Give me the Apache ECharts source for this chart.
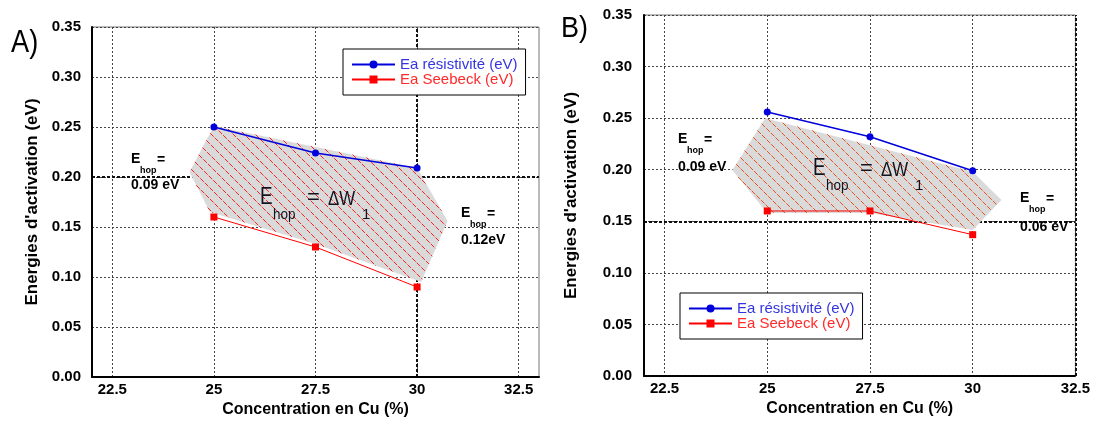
<!DOCTYPE html>
<html><head><meta charset="utf-8">
<script src="https://cdn.jsdelivr.net/npm/echarts@6/dist/echarts.min.js"></script>
<style>html,body{margin:0;padding:0;background:#fff}#c{width:1093px;height:423px}</style>
</head><body><div id="c"></div>
<script>
// ---- data ----
const xTicks = [22.5, 25, 27.5, 30, 32.5];
const conc = [25, 27.5, 30];
const resA = [0.25, 0.224, 0.209];
const seeA = [0.16, 0.13, 0.09];
const resB = [0.256, 0.232, 0.199];
const seeB = [0.16, 0.16, 0.137];
const zoneAx = [25, 30, 30.75, 30.1, 27.5, 24.9, 24.4];
const zoneAy = [0.251, 0.209, 0.156, 0.095, 0.133, 0.165, 0.205];
const zoneBx = [24.95, 30, 30.7, 30, 27.5, 25, 24.15];
const zoneBy = [0.25, 0.198, 0.1706, 0.1416, 0.158, 0.158, 0.1997];
const nameRes = 'Ea résistivité (eV)';
const nameSee = 'Ea Seebeck (eV)';

const FF = '"Liberation Sans", Arial, sans-serif';

// diagonal hatch segments ("\" direction) clipped to a pixel polygon
function hatchSegments(P, step) {
  const ds = P.map(p => p[1] - p[0]);
  const dMin = Math.min(...ds), dMax = Math.max(...ds);
  const segs = [];
  for (let d = Math.ceil(dMin / step) * step; d <= dMax; d += step) {
    const xs = [];
    for (let i = 0; i < P.length; i++) {
      const a = P[i], b = P[(i + 1) % P.length];
      const fa = a[1] - a[0] - d, fb = b[1] - b[0] - d;
      if ((fa < 0 && fb >= 0) || (fa >= 0 && fb < 0)) {
        const t = fa / (fa - fb);
        xs.push(a[0] + t * (b[0] - a[0]));
      }
    }
    xs.sort((u, v) => u - v);
    for (let k = 0; k + 1 < xs.length; k += 2) segs.push([xs[k], xs[k] + d, xs[k + 1], xs[k + 1] + d]);
  }
  return segs;
}

function zoneSeries(gi, xs, ys, color) {
  const pts = xs.map((x, i) => [x, ys[i]]);
  return {
    type: 'custom', xAxisIndex: gi, yAxisIndex: gi, data: pts, silent: true, z: 1, clip: false,
    renderItem(params, api) {
      if (params.dataIndex !== 0) return null;
      const P = pts.map(p => api.coord(p));
      const children = [{ type: 'polygon', shape: { points: P }, style: { fill: '#dadada' } }];
      hatchSegments(P, 11).forEach(s => children.push({
        type: 'line', shape: { x1: s[0], y1: s[1], x2: s[2], y2: s[3] },
        style: { stroke: color, lineWidth: 1, lineDash: [5, 1.5] }
      }));
      return { type: 'group', children };
    }
  };
}

function lineSeries(gi, name, ys, color, symbol, width, extraLines) {
  const s = {
    type: 'line', name, xAxisIndex: gi, yAxisIndex: gi, z: 5,
    data: conc.map((x, i) => [x, ys[i]]),
    symbol, symbolSize: 7, showSymbol: true,
    lineStyle: { color, width }, itemStyle: { color },
    emphasis: { disabled: true }
  };
  if (extraLines) {
    s.markLine = { silent: true, symbol: 'none', z: 0, label: { show: false },
      lineStyle: { type: [3, 2], width: 2, color: '#111' }, data: extraLines };
  }
  return s;
}

const labelStyle = { color: '#000', fontWeight: 'bold', fontSize: 15, fontFamily: FF };

function xAxisCfg(gi, max, lineType) {
  return {
    type: 'value', gridIndex: gi, min: 22, max: max,
    name: 'Concentration en Cu (%)', nameLocation: 'middle', nameGap: 25,
    nameTextStyle: { color: '#000', fontWeight: 'bold', fontSize: 16, fontFamily: FF },
    axisLine: { show: true, onZero: false, lineStyle: { color: '#000', width: 2, type: lineType } },
    axisTick: { show: false, customValues: xTicks },
    axisLabel: Object.assign({ customValues: xTicks, margin: 5, formatter: v => String(v) }, labelStyle),
    splitLine: { show: true, lineStyle: { type: [2, 2], color: '#444', width: 1 } }
  };
}
function yAxisCfg(gi, gap, margin) {
  return {
    type: 'value', gridIndex: gi, min: 0, max: 0.35, interval: 0.05,
    name: "Energies d'activation (eV)", nameLocation: 'middle', nameGap: gap,
    nameTextStyle: { color: '#000', fontWeight: 'bold', fontSize: 17, fontFamily: FF },
    axisLine: { show: true, onZero: false, lineStyle: { color: '#000', width: 2 } },
    axisTick: { show: false },
    axisLabel: Object.assign({ margin: margin, formatter: v => v.toFixed(2) }, labelStyle),
    splitLine: { show: true, lineStyle: { type: [2, 2], color: '#444', width: 1 } }
  };
}

function txt(x, y, text, size, weight, color, sx) {
  return { type: 'text', x, y, z: 100, scaleX: sx || 1,
    style: { text, fontSize: size, fontWeight: weight, fontFamily: FF, fill: color, verticalAlign: 'middle', align: 'left' } };
}
function ehop(x, y, valText, dy) {
  return [
    txt(x, y, 'E', 14, 'bold', '#000'),
    txt(x + 9, y + 12, 'hop', 9, 'bold', '#000'),
    txt(x + 26, y + 1, '=', 14, 'bold', '#000'),
    txt(x, y + dy, valText, 14, 'bold', '#000')
  ];
}
function bigEq(x, y) {
  const c = '#111420';
  return [
    txt(x, y, 'E', 23, 'normal', c, 0.82),
    txt(x + 13, y + 17, 'hop', 15, 'normal', c, 0.9),
    txt(x + 47, y, '=', 22, 'normal', c),
    txt(x + 68, y + 1, 'ΔW', 21, 'normal', c, 0.8),
    txt(x + 102, y + 17, '1', 15, 'normal', c)
  ];
}

function legendCfg(left, top) {
  return {
    left, top, orient: 'vertical', borderColor: '#000', borderWidth: 1,
    padding: [8, 8, 8, 8], itemGap: 0, itemWidth: 43, itemHeight: 10,
    backgroundColor: '#fff', selectedMode: false,
    textStyle: { fontSize: 15, fontFamily: FF, lineHeight: 14 },
    data: [
      { name: nameRes, textStyle: { color: '#3535e0' } },
      { name: nameSee, textStyle: { color: '#ff2a2a' } }
    ]
  };
}

const chart = echarts.init(document.getElementById('c'), null, { renderer: 'canvas' });
chart.setOption({
  animation: false,
  backgroundColor: '#fff',
  grid: [
    { left: 92, top: 27, width: 447, height: 351, show: true, borderColor: '#777', borderWidth: 1, backgroundColor: 'transparent' },
    { left: 644, top: 15, width: 435.5, height: 361, show: true, borderColor: '#777', borderWidth: 1, backgroundColor: 'transparent' }
  ],
  xAxis: [xAxisCfg(0, 33, 'solid'), xAxisCfg(1, 32.5, [3, 1])],
  yAxis: [yAxisCfg(0, 51, 11), yAxisCfg(1, 64, 12)],
  legend: [legendCfg(343, 49), legendCfg(680, 293)],
  series: [
    zoneSeries(0, zoneAx, zoneAy, '#ff2020'),
    zoneSeries(1, zoneBx, zoneBy, '#e8501c'),
    lineSeries(0, nameRes, resA, '#0000dd', 'circle', 1.5, [{ yAxis: 0.2 }, { xAxis: 30 }]),
    lineSeries(0, nameSee, seeA, '#ff0000', 'rect', 1),
    lineSeries(1, nameRes, resB, '#0000dd', 'circle', 1.5, [{ yAxis: 0.15 }, { xAxis: 32.5 }]),
    lineSeries(1, nameSee, seeB, '#ff0000', 'rect', 1)
  ],
  graphic: [
    txt(11, 43, 'A)', 32, 'normal', '#000', 0.85),
    txt(561, 29, 'B)', 30, 'normal', '#000', 0.9)
  ].concat(
    ehop(131, 159, '0.09 eV', 26),
    ehop(461, 213, '0.12eV', 27),
    ehop(678, 139, '0.09 eV', 28),
    ehop(1020, 198, '0.06 eV', 29),
    bigEq(260, 198),
    bigEq(813, 169)
  )
});
</script>
</body></html>
